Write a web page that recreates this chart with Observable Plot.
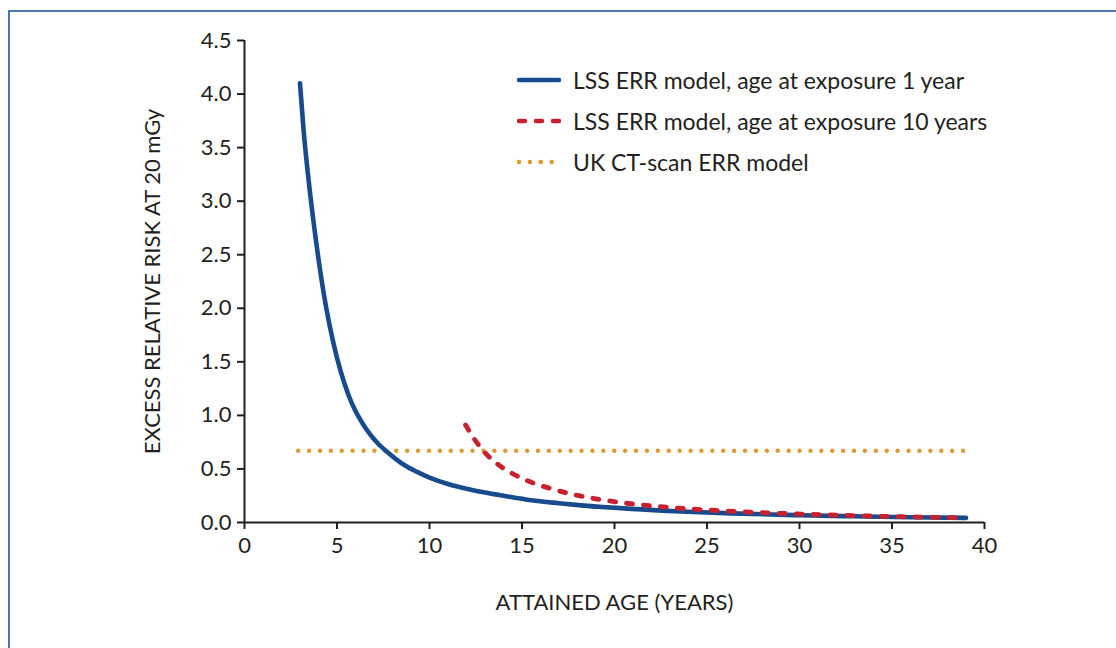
<!DOCTYPE html>
<html>
<head>
<meta charset="utf-8">
<script src="https://cdn.jsdelivr.net/npm/d3@7"></script>
<script src="https://cdn.jsdelivr.net/npm/@observablehq/plot@0.6"></script>
<style>
  html, body { margin: 0; padding: 0; background: #fff; }
  #wrap { position: relative; width: 1116px; height: 648px; overflow: hidden; font-family: Lato, "Open Sans", sans-serif; }
  #frame { position: absolute; left: 8px; top: 10px; width: 1300px; height: 900px; border-left: 2.5px solid #4a74aa; border-top: 2.5px solid #4a74aa; }
  #chart { position: absolute; left: 0; top: 0; }
  #legend { position: absolute; left: 517px; top: 59px; color: #231f20; font-size: 23px; }
  .row { display: flex; align-items: center; height: 41px; }
  .row svg { margin-right: 12px; }
</style>
</head>
<body>
<div id="wrap">
  <div id="frame"></div>
  <div id="chart"></div>
  <div id="legend"></div>
</div>
<script>
// LSS ERR model, age at exposure 1 year
const blueAge = [3.0, 3.2, 3.4, 3.7, 4.0, 4.4, 4.8, 5.2, 5.6, 6.0, 6.4, 6.8, 7.2, 7.7, 8.2, 8.7, 9.3, 10.0, 11.0, 12.0, 13.0, 14.0, 15.5, 17.0, 18.2, 20.9, 23.6, 26.3, 30.0, 33.0, 36.0, 39.0];
const blueErr = [4.10, 3.65, 3.30, 2.85, 2.46, 2.02, 1.68, 1.41, 1.20, 1.04, 0.92, 0.82, 0.74, 0.66, 0.59, 0.53, 0.475, 0.42, 0.36, 0.315, 0.28, 0.25, 0.208, 0.18, 0.16, 0.127, 0.103, 0.085, 0.068, 0.058, 0.049, 0.043];
// LSS ERR model, age at exposure 10 years
const redAge = [11.95, 12.4, 12.9, 13.8, 14.5, 15.3, 16.9, 17.8, 18.7, 19.5, 20.5, 21.5, 23.0, 25.5, 27.5, 30.0, 33.0, 35.5, 39.0];
const redErr = [0.91, 0.785, 0.67, 0.53, 0.455, 0.39, 0.30, 0.26, 0.23, 0.207, 0.183, 0.163, 0.14, 0.112, 0.096, 0.079, 0.064, 0.054, 0.043];
// UK CT-scan ERR model
const ctAge = [2.9, 38.9];
const ctErr = [0.67, 0.67];

const xTicks = [0, 5, 10, 15, 20, 25, 30, 35, 40];
const yTicks = [0, 0.5, 1, 1.5, 2, 2.5, 3, 3.5, 4, 4.5];

const seriesNames = ["LSS ERR model, age at exposure 1 year", "LSS ERR model, age at exposure 10 years", "UK CT-scan ERR model"];
const seriesColors = ["#174b8e", "#c8202f", "#e0992f"];

const blue = blueAge.map((a, i) => ({age: a, err: blueErr[i]}));
const red = redAge.map((a, i) => ({age: a, err: redErr[i]}));
const ct = ctAge.map((a, i) => ({age: a, err: ctErr[i]}));

const chart = Plot.plot({
  width: 1116,
  height: 648,
  marginLeft: 244,
  marginRight: 132,
  marginTop: 40,
  marginBottom: 126,
  x: {domain: [0, 40]},
  y: {domain: [0, 4.5]},
  style: {fontFamily: "Lato, 'Open Sans', sans-serif", fontSize: "22px", color: "#231f20", background: "transparent", overflow: "visible"},
  marks: [
    Plot.axisY({ticks: yTicks, tickFormat: d => d.toFixed(1), tickSize: 7, tickPadding: 6, strokeWidth: 2, fontSize: 22,
      label: "EXCESS RELATIVE RISK AT 20 mGy", labelAnchor: "center", labelArrow: "none", labelOffset: 100}),
    Plot.axisX({ticks: xTicks, tickSize: 7, tickPadding: 8, strokeWidth: 2, fontSize: 22,
      label: "ATTAINED AGE (YEARS)", labelAnchor: "center", labelArrow: "none", labelOffset: 87}),
    Plot.ruleX([0], {stroke: "#231f20", strokeWidth: 2}),
    Plot.ruleY([0], {stroke: "#231f20", strokeWidth: 2}),
    Plot.line(ct, {x: "age", y: "err", stroke: seriesColors[2], strokeWidth: 4.4, strokeDasharray: "0 10.9", strokeLinecap: "round"}),
    Plot.line(blue, {x: "age", y: "err", stroke: seriesColors[0], strokeWidth: 4.6, curve: "monotone-x", strokeLinecap: "round"}),
    Plot.line(red, {x: "age", y: "err", stroke: seriesColors[1], strokeWidth: 4.8, curve: "monotone-x", strokeDasharray: "6 11", strokeLinecap: "round"})
  ]
});
document.getElementById("chart").appendChild(chart);

// legend
const dashes = [null, "6 11", "0 10.9"];
const legend = d3.select("#legend");
seriesNames.forEach((name, i) => {
  const row = legend.append("div").attr("class", "row");
  const s = row.append("svg").attr("width", 44).attr("height", 10);
  s.append("line").attr("x1", 2).attr("x2", 42).attr("y1", 5).attr("y2", 5)
    .attr("stroke", seriesColors[i]).attr("stroke-width", 4.6)
    .attr("stroke-linecap", "round")
    .attr("stroke-dasharray", dashes[i]);
  row.append("span").text(name);
});
</script>
</body>
</html>
